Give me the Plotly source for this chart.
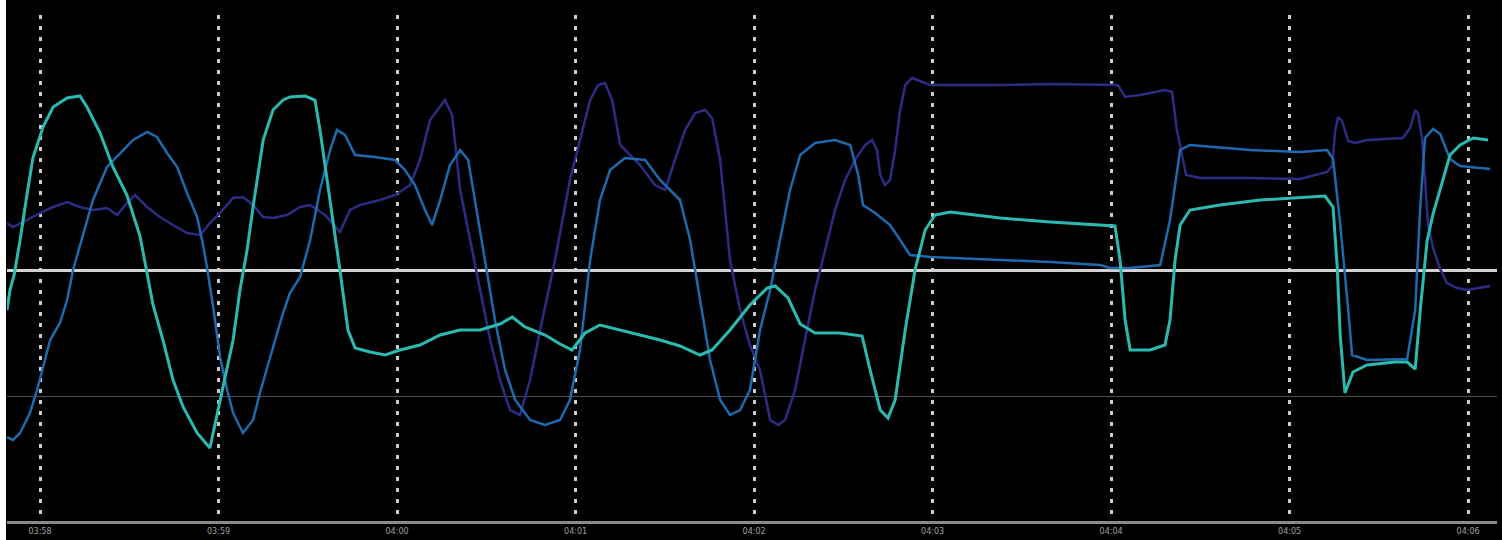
import pandas as pd
import plotly.graph_objects as go

# seconds after 03:58:00 and values (zero line = 0)
teal_t = [-11.1, -10.1, -8.7, -6.7, -4.4, -2.4, 1.0, 4.4, 9.1, 13.4, 15.8, 20.2, 24.5, 29.2, 33.6, 36.0,
          38.0, 41.3, 44.7, 48.1, 52.8, 57.1, 59.5, 61.5, 64.9, 67.2, 69.6, 71.6, 75.0, 78.3, 81.7, 84.0,
          89.1, 92.4, 94.1, 97.5, 100.8, 103.5, 105.9, 110.9, 116.0, 121.0, 127.7, 134.5, 141.2, 147.9,
          154.6, 158.7, 163.0, 169.7, 174.8, 178.8, 183.2, 188.2, 195.0, 201.7, 208.4, 215.1, 221.8,
          225.9, 231.9, 238.6, 244.4, 247.1, 251.4, 255.5, 260.5, 268.9, 276.3, 279.0, 282.4, 285.0,
          287.4, 290.8, 294.1, 297.5, 300.8, 305.9, 322.7, 339.5, 356.3, 361.3, 363.0, 364.7, 366.4,
          373.1, 378.1, 379.8, 381.5, 383.2, 386.5, 396.6, 410.1, 423.5, 431.9, 434.6, 436.0, 437.0,
          438.6, 441.3, 446.0, 455.5, 459.5, 462.2, 463.9, 466.2, 468.2, 471.6, 473.9, 477.3, 481.7, 486.7]
teal_v = [-20, -10, -2.5, 15, 37.5, 56, 71.5, 81.5, 86, 87, 81.5, 68.5, 51.5, 37.5, 17, -1.5,
          -17.5, -35, -55, -68.5, -81.5, -89, -71.5, -58.5, -35, -10, 10, 31.5, 65, 80, 85, 86.5,
          87, 85, 70, 35, 0, -30, -39, -41, -42.5, -40, -37.5, -32.5, -30, -30,
          -27, -23.5, -28.5, -32.5, -37, -40, -31.5, -27.5, -30, -32.5, -35, -38, -42.5,
          -40, -30, -17.5, -9, -8, -14, -27, -31.5, -31.5, -33, -50, -70, -74,
          -65, -30, 0, 20, 27.5, 29, 26, 24, 22.5, 22, 5, -25, -40,
          -40, -37.5, -25, 5, 22.5, 30, 32.5, 35, 36, 37, 31.5, 1.5, -32.5,
          -61.5, -51, -47.5, -46, -46, -49.5, -20, 14.5, 28, 45.5, 57.5, 62.5, 66, 65]

blue_t = [-11.1, -9.1, -6.7, -3.4, -1.0, 1.0, 3.4, 6.7, 9.1, 11.1, 14.5, 17.8, 22.5, 26.9, 31.3, 36.0,
          39.3, 42.7, 46.1, 49.4, 52.8, 54.8, 56.1, 58.2, 60.5, 62.9, 64.9, 68.2, 71.6, 73.9, 76.3, 79.7,
          81.7, 84.0, 87.4, 90.8, 94.1, 97.5, 99.8, 102.5, 105.9, 112.6, 119.3, 122.7, 126.0, 129.4,
          131.8, 134.5, 137.8, 141.2, 143.9, 146.2, 149.6, 152.9, 156.3, 159.7, 164.7, 169.7, 174.8,
          178.1, 181.5, 184.9, 188.2, 191.6, 196.6, 203.4, 208.4, 211.8, 215.1, 218.5, 221.8, 225.2,
          228.6, 231.9, 235.3, 238.6, 242.0, 245.4, 248.7, 252.1, 255.5, 260.5, 267.2, 272.3, 275.0,
          276.6, 280.7, 285.7, 289.1, 292.4, 299.2, 322.7, 339.5, 356.3, 359.7, 366.4, 376.5, 379.8,
          383.2, 386.5, 406.7, 423.5, 432.6, 434.6, 437.0, 439.7, 441.0, 446.0, 459.5, 462.2, 463.9,
          465.5, 468.2, 470.6, 473.9, 477.3, 481.7, 487.4]
blue_v = [-83.5, -85, -81.5, -71.5, -60, -48.5, -35, -26.5, -15, 0, 17.5, 35, 51.5, 58.5, 65, 69,
          66.5, 58.5, 51.5, 38.5, 26.5, 12.5, 1.5, -18.5, -43.5, -60, -71.5, -81.5, -75, -61.5, -48.5, -31.5,
          -21.5, -11.5, -3.5, 15, 40, 60, 70, 67.5, 57.5, 56.5, 55, 50, 42.5, 30,
          22.5, 35, 52.5, 60, 55, 35, 5, -25, -50, -65, -75, -77.5, -75,
          -65, -40, 5, 35, 50, 56, 55, 45, 40, 35, 15, -15, -45,
          -65, -72.5, -70, -60, -30, -10, 15, 40, 57.5, 63.5, 65, 62.5, 47.5,
          32.5, 28.5, 22.5, 15, 7.5, 6.5, 5, 4, 2.5, 1, 1, 2.5, 25,
          60, 62.5, 60, 59, 60, 55.5, 23, -20, -42.5, -45, -44.5, -20, 31.5,
          66, 70.5, 68, 55.5, 52, 51.5, 50.5]

navy_t = [-11.1, -9.1, -4.4, 0.0, 4.4, 9.1, 13.4, 17.8, 22.5, 25.9, 29.2, 31.9, 36.0, 40.3, 44.7, 49.4,
          53.8, 57.1, 60.5, 64.9, 68.2, 71.6, 75.0, 78.3, 83.0, 87.4, 90.8, 95.8, 100.8, 104.2, 107.6,
          114.3, 119.3, 124.4, 127.7, 131.1, 136.1, 138.5, 141.2, 144.5, 147.9, 151.3, 154.6, 158.0,
          161.3, 164.7, 168.1, 173.1, 178.1, 181.5, 184.9, 187.6, 189.9, 192.3, 195.0, 198.3, 201.7,
          206.7, 210.1, 213.4, 216.8, 220.2, 223.5, 225.9, 228.6, 231.9, 235.3, 238.6, 242.0, 245.4,
          248.1, 250.4, 253.8, 257.1, 260.5, 263.9, 267.2, 270.6, 273.9, 277.3, 279.7, 281.3, 282.4,
          284.0, 285.7, 287.4, 289.1, 290.8, 293.1, 299.2, 322.7, 339.5, 356.3, 362.3, 364.7, 369.7,
          378.1, 380.5, 382.1, 385.2, 389.9, 406.7, 423.5, 432.6, 434.3, 435.3, 436.3, 437.6, 439.7,
          442.0, 446.0, 458.1, 460.5, 462.2, 463.2, 464.5, 465.5, 466.5, 468.2, 470.6, 472.9, 476.3,
          479.7, 487.4]
navy_v = [23.5, 21.5, 25, 28.5, 31.5, 34, 31.5, 30, 31, 27.5, 33.5, 37.5, 31.5, 26.5, 22.5, 18.5,
          17.5, 23.5, 28.5, 36, 36.5, 32.5, 26.5, 26, 27.5, 31.5, 32.5, 27.5, 19, 30, 32.5,
          35, 37.5, 42.5, 55, 75, 85, 77.5, 40, 15, -10, -35, -55, -70,
          -72.5, -55, -30, 5, 45, 65, 85, 92.5, 93.5, 85, 62.5, 57.5, 52.5,
          42.5, 40, 55, 70, 78.5, 80, 76, 55, 5, -20, -37.5, -50, -75,
          -77.5, -75, -60, -35, -10, 10, 30, 45, 55, 62.5, 65, 60, 47.5,
          42.5, 45, 60, 80, 92.5, 96, 92.5, 92.5, 93, 92.5, 92.5, 86.5, 87.5,
          90, 89, 70, 47.5, 46, 46, 45.5, 49, 52, 69.5, 76.5, 74.5, 64.5,
          63.5, 65, 66, 71, 80, 78, 66, 45.5, 23, 11, 0.5, -6.5, -9,
          -10, -8]

tick_labels = ["03:58", "03:59", "04:00", "04:01", "04:02", "04:03", "04:04", "04:05", "04:06"]
reference_level = -63

base = pd.Timestamp("2024-01-01 03:58:00")


def to_time(secs):
    return base + pd.to_timedelta(secs, unit="s")


tick_times = [base + pd.Timedelta(minutes=i) for i in range(len(tick_labels))]

fig = go.Figure()
fig.add_trace(go.Scatter(x=to_time(navy_t), y=navy_v, mode="lines",
                         line=dict(color="#2d2c84", width=2.5), showlegend=False))
fig.add_trace(go.Scatter(x=to_time(blue_t), y=blue_v, mode="lines",
                         line=dict(color="#1d6aae", width=2.5), showlegend=False))
fig.add_trace(go.Scatter(x=to_time(teal_t), y=teal_v, mode="lines",
                         line=dict(color="#2bbab1", width=3), showlegend=False))

fig.update_layout(
    width=1502, height=540,
    margin=dict(l=7, r=5, t=15, b=19),
    paper_bgcolor="black", plot_bgcolor="black",
    xaxis=dict(
        type="date",
        range=[to_time(-11.1), to_time(489.7)],
        tickvals=tick_times, ticktext=tick_labels,
        showgrid=True, gridcolor="#cccccc", gridwidth=3, griddash="4px,7px",
        showline=True, linecolor="#8a8a8a", linewidth=3,
        ticks="", automargin=False,
        tickfont=dict(family="DejaVu Sans", size=8, color="#a0a0a0"),
        zeroline=False,
    ),
    yaxis=dict(
        range=[-125.5, 127.5],
        tickvals=[reference_level], showticklabels=False,
        showgrid=True, gridcolor="#4a5058", gridwidth=1,
        zeroline=True, zerolinecolor="#d2d2d2", zerolinewidth=3,
        showline=False, ticks="", automargin=False,
    ),
    shapes=[dict(type="rect", xref="paper", yref="paper",
                 x0=-7 / 1490, x1=-1 / 1490, y0=-19 / 506, y1=1 + 15 / 506,
                 fillcolor="white", line=dict(width=0), layer="above")],
)

fig.write_html(
    "out.html",
    config={"displayModeBar": False},
    post_script="document.body.style.margin='0';document.body.style.background='black';",
)
